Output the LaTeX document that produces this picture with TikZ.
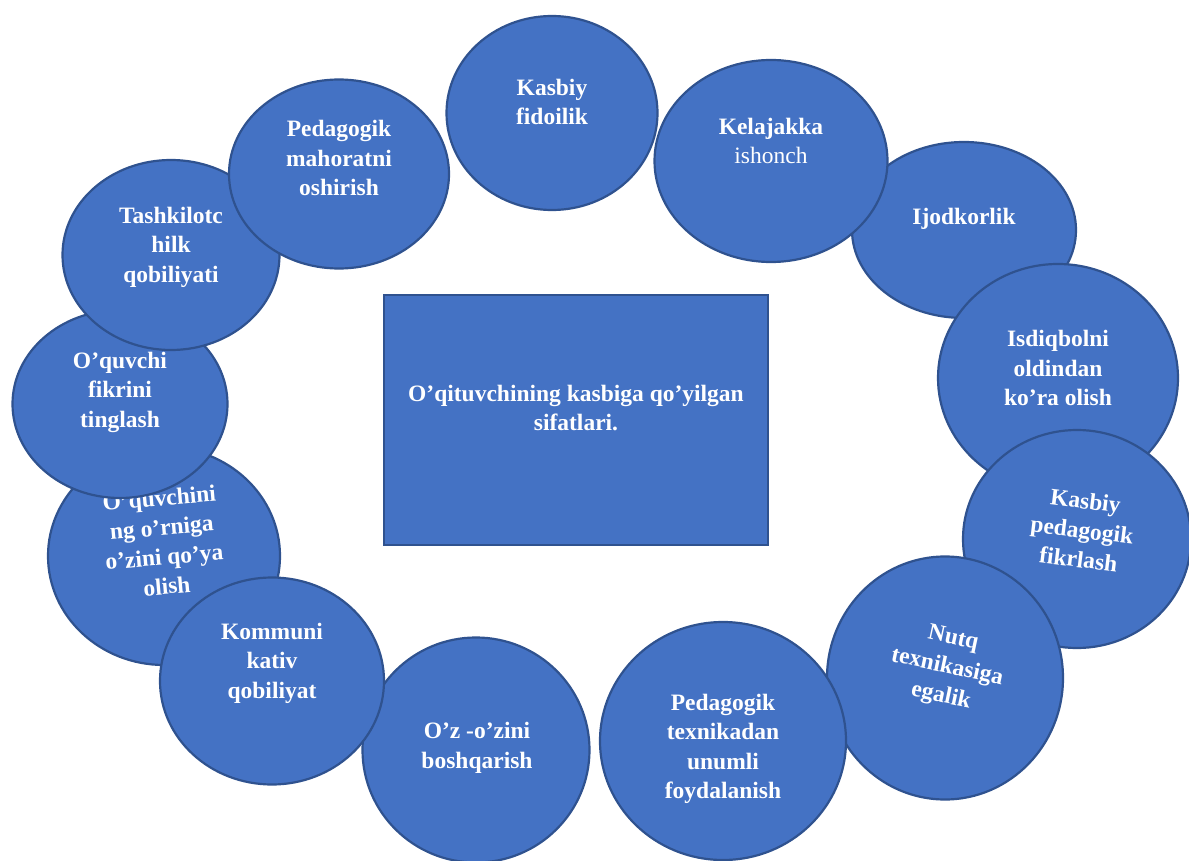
\documentclass[tikz,border=0pt]{standalone}
\usepackage{fontspec}
\setmainfont{Liberation Serif}
\usetikzlibrary{shapes.geometric}
\definecolor{blobfill}{HTML}{4472C4}
\definecolor{blobedge}{HTML}{2F528F}
\tikzset{
  blob/.style={ellipse, draw=blobedge, fill=blobfill, line width=2.2pt, inner sep=0pt},
  box/.style={rectangle, draw=blobedge, fill=blobfill, line width=2.2pt, inner sep=0pt},
  lbl/.style={text=white, align=center, font=\fontsize{23.5}{29.5}\selectfont\bfseries, inner sep=0pt},
}
\begin{document}
\begin{tikzpicture}[x=1pt,y=-1pt]
\useasboundingbox (0,0) rectangle (1189,861);
% centre box
\node[box, minimum width=384pt, minimum height=250pt] (core) at (576,420) {};
\node[lbl] (coret) at (576,408) {O’qituvchining kasbiga qo’yilgan\\sifatlari.};
% ellipses in stacking order
\node[blob, minimum width=224pt, minimum height=176pt] (ijod) at (964,230) {};
\node[lbl] (ijodt) at (964,219) {Ijodkorlik};
\node[blob, minimum width=233pt, minimum height=202pt] (kel) at (771,161) {};
\node[lbl] (kelt) at (771,141) {Kelajakka\\\mdseries ishonch};
\node[blob, minimum width=211pt, minimum height=194pt] (fid) at (552,113) {};
\node[lbl] (fidt) at (552,102) {Kasbiy\\fidoilik};
\node[blob, minimum width=240pt, minimum height=228pt] (isd) at (1058,378) {};
\node[lbl] (isdt) at (1058,368) {Isdiqbolni\\oldindan\\ko’ra olish};
\node[blob, minimum width=228pt, minimum height=218pt] (kpf) at (1077,539) {};
\node[lbl, rotate=-7] (kpft) at (1082,530) {Kasbiy\\pedagogik\\fikrlash};
\node[blob, minimum width=236pt, minimum height=243pt] (nutq) at (945,678) {};
\node[lbl, rotate=-12] (nutqt) at (947,668) {Nutq\\texnikasiga\\egalik};
\node[blob, minimum width=246pt, minimum height=238pt] (ptex) at (723,741) {};
\node[lbl] (ptext) at (723,749) {Pedagogik\\texnikadan\\unumli\\foydalanish};
\node[blob, minimum width=227pt, minimum height=225pt] (ozz) at (476,750) {};
\node[lbl] (ozzt) at (477,748) {O’z -o’zini\\boshqarish};
\node[blob, minimum width=232pt, minimum height=218pt] (orn) at (164,556) {};
\node[lbl, rotate=5] (ornt) at (163,542) {O’quvchini\\ng o’rniga\\o’zini qo’ya\\olish};
\node[blob, minimum width=224pt, minimum height=207pt] (kom) at (272,681) {};
\node[lbl] (komt) at (272,663) {Kommuni\\kativ\\qobiliyat};
\node[blob, minimum width=215pt, minimum height=188pt] (fik) at (120,404) {};
\node[lbl] (fikt) at (120,392) {O’quvchi\\fikrini\\tinglash};
\node[blob, minimum width=217pt, minimum height=190pt] (tash) at (171,255) {};
\node[lbl] (tasht) at (171,247) {Tashkilotc\\hilk\\qobiliyati};
\node[blob, minimum width=220pt, minimum height=189pt] (mah) at (339,174) {};
\node[lbl] (maht) at (339,158) {Pedagogik\\mahoratni\\oshirish};
\end{tikzpicture}
\end{document}
